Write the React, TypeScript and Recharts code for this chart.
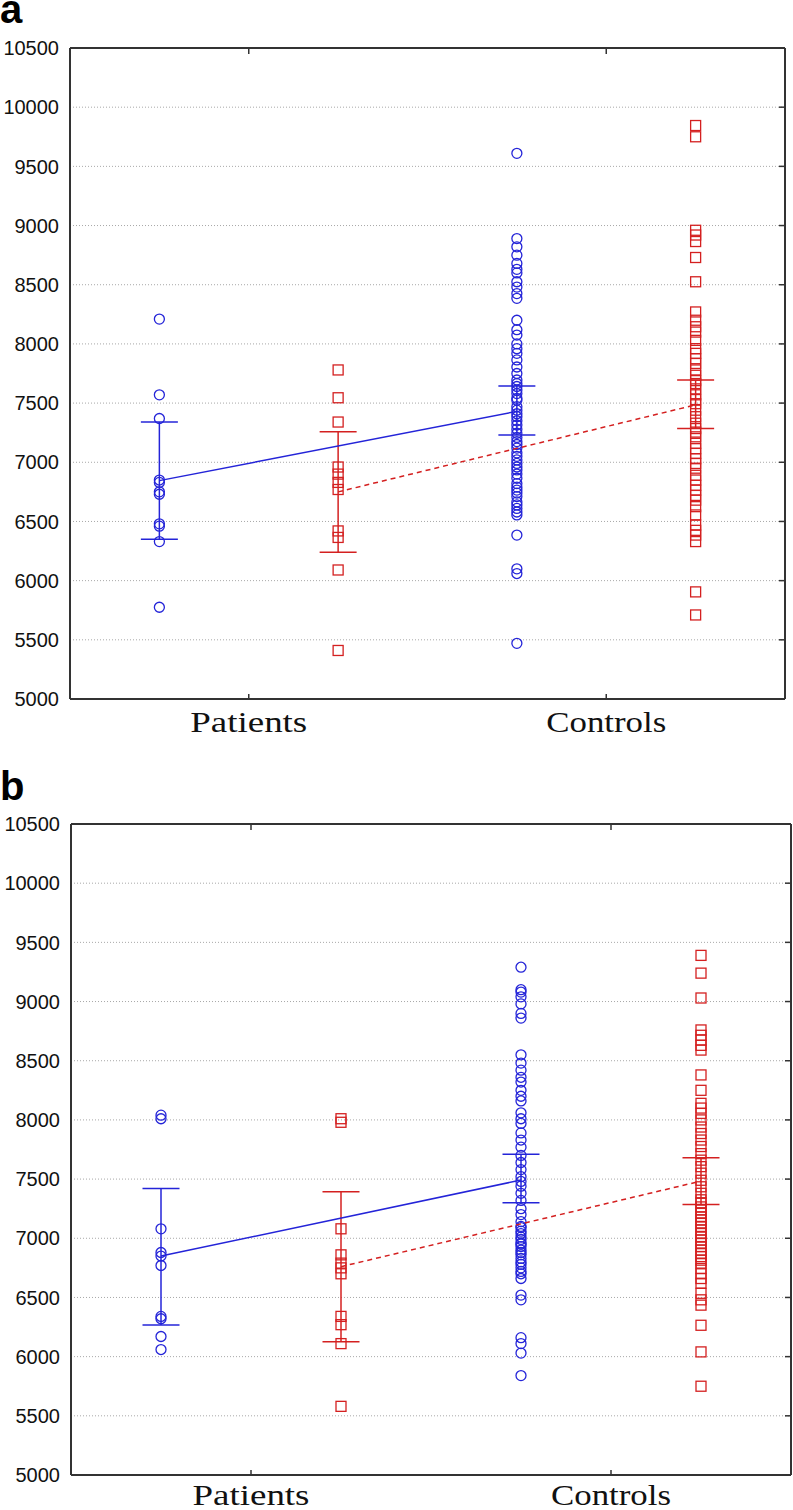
import React from 'react';
import { ComposedChart, Scatter, XAxis, YAxis, CartesianGrid, ErrorBar, ReferenceLine } from 'recharts';

const CATEGORIES = ['Patients', 'Controls'];
const CATEGORY_X = [1, 2];
const X_DOMAIN = [0.5, 2.5];
const Y_DOMAIN = [5000, 10500];
const Y_TICKS = [5000, 5500, 6000, 6500, 7000, 7500, 8000, 8500, 9000, 9500, 10000, 10500];

// ---------- Panel a ----------
const A_PATIENTS_BLUE = [8210, 7570, 7370, 6850, 6830, 6750, 6730, 6480, 6460, 6330, 5775];
const A_PATIENTS_RED = [7780, 7545, 7340, 6960, 6900, 6830, 6770, 6420, 6365, 6090, 5410];
const A_CONTROLS_BLUE = [
  9610, 8890, 8820, 8750, 8680, 8630, 8600, 8525, 8480, 8425, 8385, 8200, 8120, 8075, 8000,
  7960, 7920, 7865, 7805, 7750, 7695, 7665, 7640, 7610, 7580, 7540, 7525, 7470, 7440, 7410,
  7385, 7350, 7315, 7280, 7245, 7210, 7175, 7150, 7120, 7080, 7050, 7020, 6990, 6960, 6935,
  6900, 6865, 6820, 6790, 6765, 6740, 6710, 6665, 6640, 6610, 6580, 6555, 6385, 6100, 6060, 5470,
];
const A_CONTROLS_RED = [
  9845, 9750, 8960, 8920, 8865, 8730, 8525, 8270, 8200, 8145, 8100, 8030, 7960, 7920, 7875,
  7835, 7780, 7735, 7690, 7665, 7620, 7570, 7530, 7495, 7440, 7385, 7330, 7285, 7255, 7215,
  7160, 7115, 7075, 7030, 6990, 6950, 6890, 6850, 6805, 6765, 6720, 6680, 6625, 6555, 6470,
  6425, 6385, 6330, 5905, 5710,
];
const A_BLUE_MEAN = [6845, 7430];
const A_BLUE_LOW = [6350, 7230];
const A_BLUE_HIGH = [7340, 7645];
const A_RED_MEAN = [6750, 7485];
const A_RED_LOW = [6240, 7285];
const A_RED_HIGH = [7257, 7695];

// ---------- Panel b ----------
const B_PATIENTS_BLUE = [8040, 8010, 7080, 6880, 6850, 6770, 6340, 6320, 6170, 6060];
const B_PATIENTS_RED = [8010, 7980, 7080, 6860, 6790, 6750, 6700, 6340, 6270, 6110, 5580];
const B_CONTROLS_BLUE = [
  9290, 9100, 9080, 9040, 8980, 8900, 8860, 8550, 8480, 8420, 8360, 8320, 8250, 8200, 8160,
  8060, 8010, 7970, 7890, 7830, 7770, 7700, 7640, 7580, 7520, 7480, 7440, 7380, 7320, 7250,
  7200, 7140, 7100, 7090, 7060, 7040, 7010, 6990, 6960, 6950, 6930, 6900, 6880, 6860, 6830,
  6800, 6780, 6750, 6720, 6700, 6660, 6520, 6480, 6160, 6110, 6030, 5840,
];
const B_CONTROLS_RED = [
  9390, 9240, 9030, 8760, 8715, 8675, 8630, 8590, 8380, 8250, 8140, 8100, 8055, 8000, 7940,
  7885, 7830, 7775, 7715, 7660, 7605, 7550, 7490, 7435, 7380, 7325, 7300, 7265, 7240, 7210,
  7180, 7155, 7130, 7100, 7070, 7040, 7010, 6985, 6960, 6930, 6900, 6870, 6845, 6815, 6790,
  6745, 6700, 6660, 6620, 6535, 6480, 6435, 6265, 6040, 5750,
];
const B_BLUE_MEAN = [6850, 7492];
const B_BLUE_LOW = [6267, 7300];
const B_BLUE_HIGH = [7421, 7709];
const B_RED_MEAN = [6760, 7483];
const B_RED_LOW = [6126, 7286];
const B_RED_HIGH = [7393, 7680];

const BLUE = '#2424d8';
const RED = '#d42020';
const AXIS = '#333333';
const OFFSET = 0.25;

const pts = (vals: number[], x: number) => vals.map((v) => ({ x, y: v }));
const summary = (mean: number[], low: number[], high: number[], off: number) =>
  mean.map((m, i) => ({ x: CATEGORY_X[i] + off, y: m, err: [m - low[i], high[i] - m] }));

const Circle = (p: any) =>
  p.cx == null ? <g /> : <circle cx={p.cx} cy={p.cy} r={5} fill="none" stroke={BLUE} strokeWidth={1.3} />;
const Square = (p: any) =>
  p.cx == null ? <g /> : (
    <rect x={p.cx - 5} y={p.cy - 5} width={10} height={10} fill="none" stroke={RED} strokeWidth={1.3} />
  );
const Empty = () => <g />;

function Panel(props: any) {
  const {
    width, height, margin, yAxisWidth, xAxisHeight, labelDy,
    pb, pr, cb, cr, bMean, bLow, bHigh, rMean, rLow, rHigh,
  } = props;
  const blueStats = summary(bMean, bLow, bHigh, -OFFSET);
  const redStats = summary(rMean, rLow, rHigh, OFFSET);
  const bluePts = [...pts(pb, CATEGORY_X[0] - OFFSET), ...pts(cb, CATEGORY_X[1] - OFFSET)];
  const redPts = [...pts(pr, CATEGORY_X[0] + OFFSET), ...pts(cr, CATEGORY_X[1] + OFFSET)];
  return (
    <ComposedChart width={width} height={height} margin={margin}>
      <CartesianGrid vertical={false} stroke="#a8a8a8" strokeDasharray="1 2" strokeWidth={1} />
      <XAxis
        type="number"
        dataKey="x"
        domain={X_DOMAIN}
        ticks={CATEGORY_X}
        allowDataOverflow
        height={xAxisHeight}
        tickSize={0}
        tickMargin={0}
        tickLine={false}
        axisLine={{ stroke: AXIS, strokeWidth: 2 }}
        tick={(p: any) => {
          const idx = CATEGORY_X.indexOf(p.payload.value);
          return (
            <g>
              <line x1={p.x} y1={p.y} x2={p.x} y2={p.y - 5} stroke={AXIS} strokeWidth={1.5} />
              <text
                x={p.x}
                y={p.y + labelDy}
                textAnchor="middle"
                fontFamily="'Liberation Serif', 'Times New Roman', serif"
                fontSize={30}
                fill="#111"
                textLength={idx === 0 ? 117 : 120}
                lengthAdjust="spacingAndGlyphs"
              >
                {CATEGORIES[idx]}
              </text>
            </g>
          );
        }}
      />
      <XAxis
        xAxisId="top"
        orientation="top"
        type="number"
        dataKey="x"
        domain={X_DOMAIN}
        ticks={CATEGORY_X}
        allowDataOverflow
        height={1}
        tickSize={0}
        tickMargin={0}
        tickLine={false}
        axisLine={{ stroke: AXIS, strokeWidth: 2 }}
        tick={(p: any) => (
          <line x1={p.x} y1={p.y} x2={p.x} y2={p.y + 6} stroke={AXIS} strokeWidth={1.5} />
        )}
      />
      <YAxis
        type="number"
        dataKey="y"
        domain={Y_DOMAIN}
        ticks={Y_TICKS}
        allowDataOverflow
        width={yAxisWidth}
        tickSize={0}
        tickMargin={11}
        tickLine={false}
        axisLine={{ stroke: AXIS, strokeWidth: 2 }}
        tick={(p: any) => (
          <text
            x={p.x}
            y={p.y}
            dy="0.36em"
            textAnchor="end"
            fontFamily="'Liberation Sans', Arial, sans-serif"
            fontSize={20}
            fill="#111"
          >
            {p.payload.value}
          </text>
        )}
      />
      <YAxis
        yAxisId="right"
        orientation="right"
        type="number"
        dataKey="y"
        domain={Y_DOMAIN}
        ticks={Y_TICKS}
        allowDataOverflow
        width={1}
        tickSize={0}
        tickMargin={0}
        tickLine={false}
        axisLine={{ stroke: AXIS, strokeWidth: 2 }}
        tick={(p: any) => (
          <line x1={p.x} y1={p.y} x2={p.x - 6} y2={p.y} stroke={AXIS} strokeWidth={1.5} />
        )}
      />
      <Scatter
        xAxisId="top"
        yAxisId="right"
        data={[{ x: 1, y: 5000 }]}
        shape={Empty}
        isAnimationActive={false}
      />
      <ReferenceLine y={Y_DOMAIN[1]} stroke={AXIS} strokeWidth={2} ifOverflow="visible" />
      <ReferenceLine x={X_DOMAIN[1]} stroke={AXIS} strokeWidth={2} ifOverflow="visible" />
      <Scatter data={bluePts} shape={Circle} isAnimationActive={false} />
      <Scatter data={redPts} shape={Square} isAnimationActive={false} />
      <Scatter
        data={blueStats}
        shape={Empty}
        line={{ stroke: BLUE, strokeWidth: 1.5 }}
        lineType="joint"
        isAnimationActive={false}
      >
        <ErrorBar dataKey="err" direction="y" width={18.5} stroke={BLUE} strokeWidth={1.5} />
      </Scatter>
      <Scatter
        data={redStats}
        shape={Empty}
        line={{ stroke: RED, strokeWidth: 1.5, strokeDasharray: '5 4' }}
        lineType="joint"
        isAnimationActive={false}
      >
        <ErrorBar dataKey="err" direction="y" width={18.5} stroke={RED} strokeWidth={1.5} />
      </Scatter>
    </ComposedChart>
  );
}

const panelLabel = (txt: string, top: number, baseline: number) => (
  <svg width={60} height={baseline + 10} style={{ position: 'absolute', left: 0, top }}>
    <text
      x={0}
      y={baseline}
      fontFamily="'Liberation Sans', Arial, sans-serif"
      fontWeight="bold"
      fontSize={40}
      fill="#000"
    >
      {txt}
    </text>
  </svg>
);

export default function App() {
  return (
    <div style={{ position: 'absolute', left: 0, top: 0, width: 793, height: 1510, background: '#fff', overflow: 'hidden' }}>
      <div style={{ position: 'absolute', left: 0, top: 0 }}>
        <Panel
          width={793}
          height={760}
          margin={{ top: 47, right: 7, bottom: 0, left: 0 }}
          yAxisWidth={70}
          xAxisHeight={61}
          labelDy={33}
          pb={A_PATIENTS_BLUE}
          pr={A_PATIENTS_RED}
          cb={A_CONTROLS_BLUE}
          cr={A_CONTROLS_RED}
          bMean={A_BLUE_MEAN}
          bLow={A_BLUE_LOW}
          bHigh={A_BLUE_HIGH}
          rMean={A_RED_MEAN}
          rLow={A_RED_LOW}
          rHigh={A_RED_HIGH}
        />
      </div>
      <div style={{ position: 'absolute', left: 0, top: 760 }}>
        <Panel
          width={793}
          height={750}
          margin={{ top: 63, right: 1, bottom: 0, left: 0 }}
          yAxisWidth={71}
          xAxisHeight={35}
          labelDy={30}
          pb={B_PATIENTS_BLUE}
          pr={B_PATIENTS_RED}
          cb={B_CONTROLS_BLUE}
          cr={B_CONTROLS_RED}
          bMean={B_BLUE_MEAN}
          bLow={B_BLUE_LOW}
          bHigh={B_BLUE_HIGH}
          rMean={B_RED_MEAN}
          rLow={B_RED_LOW}
          rHigh={B_RED_HIGH}
        />
      </div>
      {panelLabel('a', 0, 23)}
      {panelLabel('b', 760, 40)}
    </div>
  );
}
